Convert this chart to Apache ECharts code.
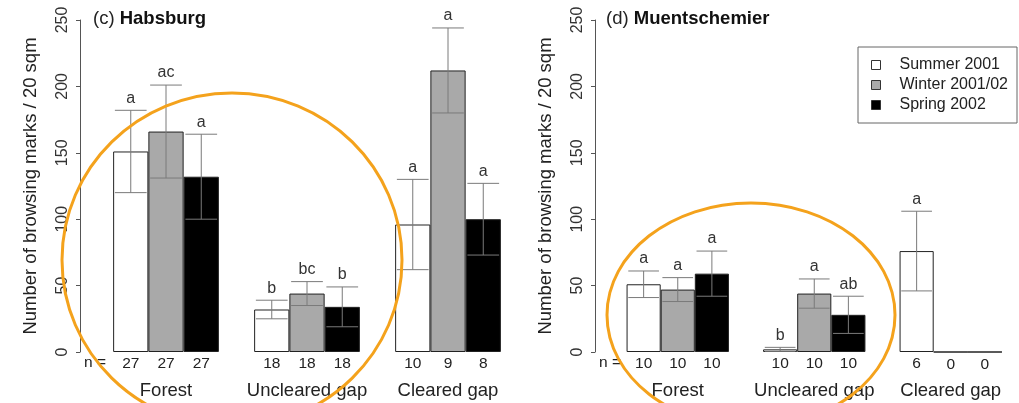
<!DOCTYPE html>
<html>
<head>
<meta charset="utf-8">
<script src="https://cdn.jsdelivr.net/npm/echarts@6/dist/echarts.min.js"></script>
<style>html,body{margin:0;padding:0;background:#fff;}#c{width:1019px;height:403px;}</style>
</head>
<body>
<div id="c"></div>
<script>
// ---- data ----
var categories = ['Forest', 'Uncleared gap', 'Cleared gap'];
var seasons = ['Summer 2001', 'Winter 2001/02', 'Spring 2002'];
var yTicks = [0, 50, 100, 150, 200, 250];

// (c) Habsburg
var habMeanSummer = [151, 32, 96];
var habMeanWinter = [166, 44, 212];
var habMeanSpring = [132, 34, 100];
var habErrSummer = [31, 7, 34];
var habErrWinter = [35, 9, 32];
var habErrSpring = [32, 15, 27];
var habLetSummer = ['a', 'b', 'a'];
var habLetWinter = ['ac', 'bc', 'a'];
var habLetSpring = ['a', 'b', 'a'];
var habNSummer = [27, 18, 10];
var habNWinter = [27, 18, 9];
var habNSpring = [27, 18, 8];

// (d) Muentschemier
var mueMeanSummer = [51, 2, 76];
var mueMeanWinter = [47, 44, 0];
var mueMeanSpring = [59, 28, 0];
var mueErrSummer = [10, 1.5, 30];
var mueErrWinter = [9, 11, 0];
var mueErrSpring = [17, 14, 0];
var mueLetSummer = ['a', 'b', 'a'];
var mueLetWinter = ['a', 'a', ''];
var mueLetSpring = ['a', 'ab', ''];
var mueNSummer = [10, 10, 6];
var mueNWinter = [10, 10, 0];
var mueNSpring = [10, 10, 0];

// ---- styling ----
var FONT = '"Liberation Sans", Arial, Helvetica, sans-serif';
var TXT = '#222';
var seasonColors = ['#ffffff', '#a9a9a9', '#000000'];

function barSeries(name, k, means, ns, axisIdx) {
  return {
    name: name,
    type: 'bar',
    xAxisIndex: axisIdx,
    yAxisIndex: axisIdx,
    data: means,
    barGap: '0%',
    barCategoryGap: '25%',
    z: 2,
    itemStyle: { color: seasonColors[k], borderColor: '#222', borderWidth: 1 },
    label: {
      show: true,
      position: 'bottom',
      distance: 4,
      formatter: function (p) { return String(ns[p.dataIndex]); },
      fontSize: 15.5,
      fontFamily: FONT,
      color: TXT
    },
    emphasis: { disabled: true },
    silent: true
  };
}

function errSeries(k, means, errs, letters, axisIdx) {
  return {
    type: 'custom',
    xAxisIndex: axisIdx,
    yAxisIndex: axisIdx,
    z: 5,
    clip: false,
    silent: true,
    data: means.map(function (m, i) { return [i, m, errs[i]]; }),
    renderItem: function (params, api) {
      var i = params.dataIndex;
      var m = means[i], e = errs[i];
      var c = api.coord([api.value(0), m]);
      var band = api.size([1, 0])[0];
      var bw = band * 0.25;
      var x = c[0] + (k - 1) * bw;
      var top = api.coord([api.value(0), m + e])[1];
      var bot = api.coord([api.value(0), m - e])[1];
      var half = bw * 0.45;
      var ch = [];
      var ls = { stroke: '#7a7a7a', lineWidth: 1 };
      if (e > 0) {
        ch.push({ type: 'line', shape: { x1: x, y1: top, x2: x, y2: bot }, style: ls });
        ch.push({ type: 'line', shape: { x1: x - half, y1: top, x2: x + half, y2: top }, style: ls });
        ch.push({ type: 'line', shape: { x1: x - half, y1: bot, x2: x + half, y2: bot }, style: ls });
      }
      if (letters[i]) {
        ch.push({
          type: 'text',
          style: {
            text: letters[i], x: x, y: top - 4,
            align: 'center', verticalAlign: 'bottom',
            fontSize: 16, fontFamily: FONT, fill: '#333'
          }
        });
      }
      return { type: 'group', children: ch };
    }
  };
}

function yAx(gridIdx, offset) {
  return {
    type: 'value', gridIndex: gridIdx, min: 0, max: 250, interval: 50,
    offset: offset,
    name: 'Number of browsing marks / 20 sqm',
    nameLocation: 'middle', nameRotate: 90, nameGap: 40,
    nameTextStyle: { fontSize: 18.5, fontFamily: FONT, color: TXT },
    axisLine: { show: true, lineStyle: { color: '#555', width: 1 } },
    axisTick: { show: true, length: 4, lineStyle: { color: '#555' } },
    splitLine: { show: false },
    axisLabel: {
      rotate: 90, margin: 9, fontSize: 16, fontFamily: FONT, color: '#333',
      formatter: function (v) { return yTicks.indexOf(v) >= 0 ? String(v) : ''; }
    }
  };
}

function xAx(gridIdx) {
  return {
    type: 'category', gridIndex: gridIdx, data: categories,
    axisLine: { show: false }, axisTick: { show: false },
    axisLabel: { margin: 29, fontSize: 18.5, fontFamily: FONT, color: TXT, interval: 0 }
  };
}

var chart = echarts.init(document.getElementById('c'), null, { renderer: 'canvas' });

var option = {
  animation: false,
  backgroundColor: '#fff',
  grid: [
    { left: 95.5, top: 20, width: 423, height: 332 },
    { left: 609.5, top: 20, width: 423, height: 332 }
  ],
  xAxis: [xAx(0), xAx(1)],
  yAxis: [yAx(0, 15.5), yAx(1, 14.5)],
  title: [
    {
      text: '{n|(c) }{b|Habsburg}', left: 93, top: 9, padding: 0,
      textStyle: { rich: {
        n: { fontSize: 18.5, fontFamily: FONT, color: TXT, fontWeight: 'normal' },
        b: { fontSize: 18.5, fontFamily: FONT, color: '#111', fontWeight: 'bold' }
      } }
    },
    {
      text: '{n|(d) }{b|Muentschemier}', left: 606, top: 9, padding: 0,
      textStyle: { rich: {
        n: { fontSize: 18.5, fontFamily: FONT, color: TXT, fontWeight: 'normal' },
        b: { fontSize: 18.5, fontFamily: FONT, color: '#111', fontWeight: 'bold' }
      } }
    }
  ],
  legend: {
    data: seasons,
    orient: 'vertical',
    left: 858, top: 47,
    padding: [10, 9, 10, 13],
    borderColor: '#666', borderWidth: 1, borderRadius: 0,
    itemWidth: 9, itemHeight: 9, itemGap: 4,
    icon: 'rect',
    itemStyle: { borderColor: '#333', borderWidth: 1 },
    textStyle: { fontSize: 16, fontFamily: FONT, color: TXT, padding: [0, 0, 0, 14] },
    selectedMode: false
  },
  series: [
    barSeries(seasons[0], 0, habMeanSummer, habNSummer, 0),
    barSeries(seasons[1], 1, habMeanWinter, habNWinter, 0),
    barSeries(seasons[2], 2, habMeanSpring, habNSpring, 0),
    errSeries(0, habMeanSummer, habErrSummer, habLetSummer, 0),
    errSeries(1, habMeanWinter, habErrWinter, habLetWinter, 0),
    errSeries(2, habMeanSpring, habErrSpring, habLetSpring, 0),
    barSeries(seasons[0], 0, mueMeanSummer, mueNSummer, 1),
    barSeries(seasons[1], 1, mueMeanWinter, mueNWinter, 1),
    barSeries(seasons[2], 2, mueMeanSpring, mueNSpring, 1),
    errSeries(0, mueMeanSummer, mueErrSummer, mueLetSummer, 1),
    errSeries(1, mueMeanWinter, mueErrWinter, mueLetWinter, 1),
    errSeries(2, mueMeanSpring, mueErrSpring, mueLetSpring, 1)
  ],
  graphic: [
    { type: 'text', left: 84, top: 355, silent: true,
      style: { text: 'n =', fontSize: 15.5, fontFamily: FONT, fill: TXT } },
    { type: 'text', left: 599, top: 355, silent: true,
      style: { text: 'n =', fontSize: 15.5, fontFamily: FONT, fill: TXT } },
    { type: 'ellipse', z: 100, silent: true,
      shape: { cx: 232, cy: 260, rx: 170, ry: 167 },
      style: { fill: 'none', stroke: '#F4A21C', lineWidth: 3 } },
    { type: 'ellipse', z: 100, silent: true,
      shape: { cx: 751, cy: 315, rx: 144, ry: 112 },
      style: { fill: 'none', stroke: '#F4A21C', lineWidth: 3 } }
  ]
};
chart.setOption(option);
</script>
</body>
</html>
